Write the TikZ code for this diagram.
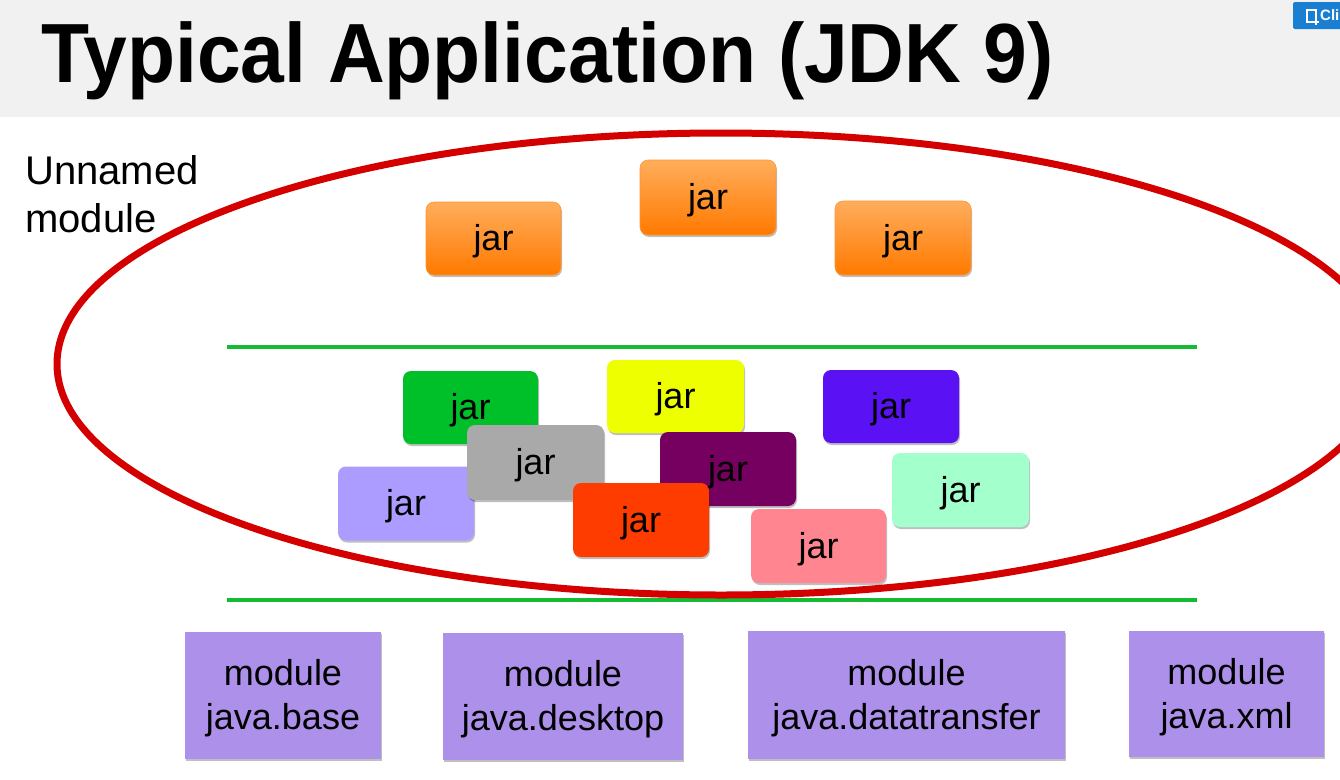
\documentclass[tikz,border=0pt]{standalone}
\usepackage{fontspec}
\setmainfont{Liberation Sans}
\usetikzlibrary{shadows}
\definecolor{titlebg}{HTML}{F1F1F1}
\definecolor{ovalred}{HTML}{D40000}
\definecolor{linegreen}{HTML}{14BB33}
\definecolor{orgtop}{HTML}{FFAD5C}
\definecolor{orgbot}{HTML}{FF7A00}
\definecolor{jgreen}{HTML}{00C02A}
\definecolor{jyellow}{HTML}{EEFF00}
\definecolor{jblue}{HTML}{5A12F5}
\definecolor{jgray}{HTML}{A9A9A9}
\definecolor{jpurple}{HTML}{760060}
\definecolor{jlav}{HTML}{AD9CFF}
\definecolor{jred}{HTML}{FF3C00}
\definecolor{jmint}{HTML}{A3FFCC}
\definecolor{jpink}{HTML}{FF8690}
\definecolor{modfill}{HTML}{AC90EA}
\definecolor{clipblue}{HTML}{1A7FD0}
\tikzset{
  shd/.style={drop shadow={shadow xshift=1pt, shadow yshift=-2pt, opacity=0.25, fill=black}},
  jarbox/.style={shd, rounded corners=8pt, inner sep=0pt, minimum width=136pt, minimum height=74pt,
    text height=32pt, text depth=7.5pt, font=\fontsize{36}{40}\selectfont, text=black},
  orangejar/.style={jarbox, top color=orgtop, bottom color=orgbot, draw=orgbot!80!white, line width=0.6pt},
  modbox/.style={shd, fill=modfill, inner sep=0pt, align=center, font=\fontsize{36}{44}\selectfont},
  sepline/.style={draw=linegreen, line width=4pt},
}
\newcommand{\modstrut}{\rule{0pt}{32pt}}
\begin{document}
\begin{tikzpicture}[x=1pt, y=-1pt]
\useasboundingbox (0,0) rectangle (1340,779);
\fill[white] (0,0) rectangle (1340,779);
% title bar
\fill[titlebg] (0,0) rectangle (1340,117);
\node[anchor=base west, inner sep=0pt, font=\fontsize{84}{90}\selectfont\bfseries] (title) at (41,82)
  {\scalebox{0.936}[1]{Typical Application (JDK 9)}};
% clip button
\fill[clipblue, rounded corners=2pt] (1293,2) rectangle (1360,29);
\draw[white, line width=1.6pt] (1307,10) rectangle (1316,22);
\draw[white, line width=1.4pt] (1316,19) -- (1316,25) (1313,22) -- (1319,22);
\node[anchor=west, inner sep=0pt, text=white, font=\fontsize{15}{16}\selectfont\bfseries] (clip) at (1320,15.5) {Cli};
% label
\node[anchor=north west, inner sep=0pt, align=left, font=\fontsize{40}{48}\selectfont] (unnamed) at (25,155) {Unnamed\\module};
% separator lines
\draw[sepline] (227,347) -- (1197,347);
\draw[sepline] (227,600) -- (1197,600);
% oval
\draw[ovalred, line width=7pt] (721,364) ellipse [x radius=664, y radius=231];
% top jars
\node[orangejar, minimum width=135pt, minimum height=73pt] (jA) at (493.5,238.5) {jar};
\node[orangejar, minimum height=75pt] (jB) at (708,197.5) {jar};
\node[orangejar] (jC) at (903,238) {jar};
% middle jars
\node[jarbox, fill=jgreen, minimum width=135pt, minimum height=73pt] (jgreen) at (470.5,407.5) {jar};
\node[jarbox, fill=jlav] (jlav) at (406,503.5) {jar};
\node[jarbox, fill=jgray, minimum width=137pt, minimum height=75pt] (jgray) at (535.5,462.5) {jar};
\node[jarbox, fill=jyellow, minimum width=137pt, minimum height=73pt] (jyellow) at (675.5,396.5) {jar};
\node[jarbox, fill=jpurple] (jpurple) at (728,469) {jar};
\node[jarbox, fill=jred] (jred) at (641,520) {jar};
\node[jarbox, fill=jpink, minimum width=135pt] (jpink) at (818.5,546) {jar};
\node[jarbox, fill=jblue, minimum height=73pt] (jblue) at (891,406.5) {jar};
\node[jarbox, fill=jmint, minimum width=137pt] (jmint) at (960.5,490) {jar};
% modules
\node[modbox, minimum width=196pt, minimum height=127pt] (m1) at (283,695.5) {\modstrut module\\java.base};
\node[modbox, minimum width=240pt, minimum height=127pt] (m2) at (563,696.5) {\modstrut module\\java.desktop};
\node[modbox, minimum width=317pt, minimum height=128pt] (m3) at (906.5,695) {\modstrut module\\java.datatransfer};
\node[modbox, minimum width=195pt, minimum height=126pt] (m4) at (1226.5,694) {\modstrut module\\java.xml};
\end{tikzpicture}
\end{document}
